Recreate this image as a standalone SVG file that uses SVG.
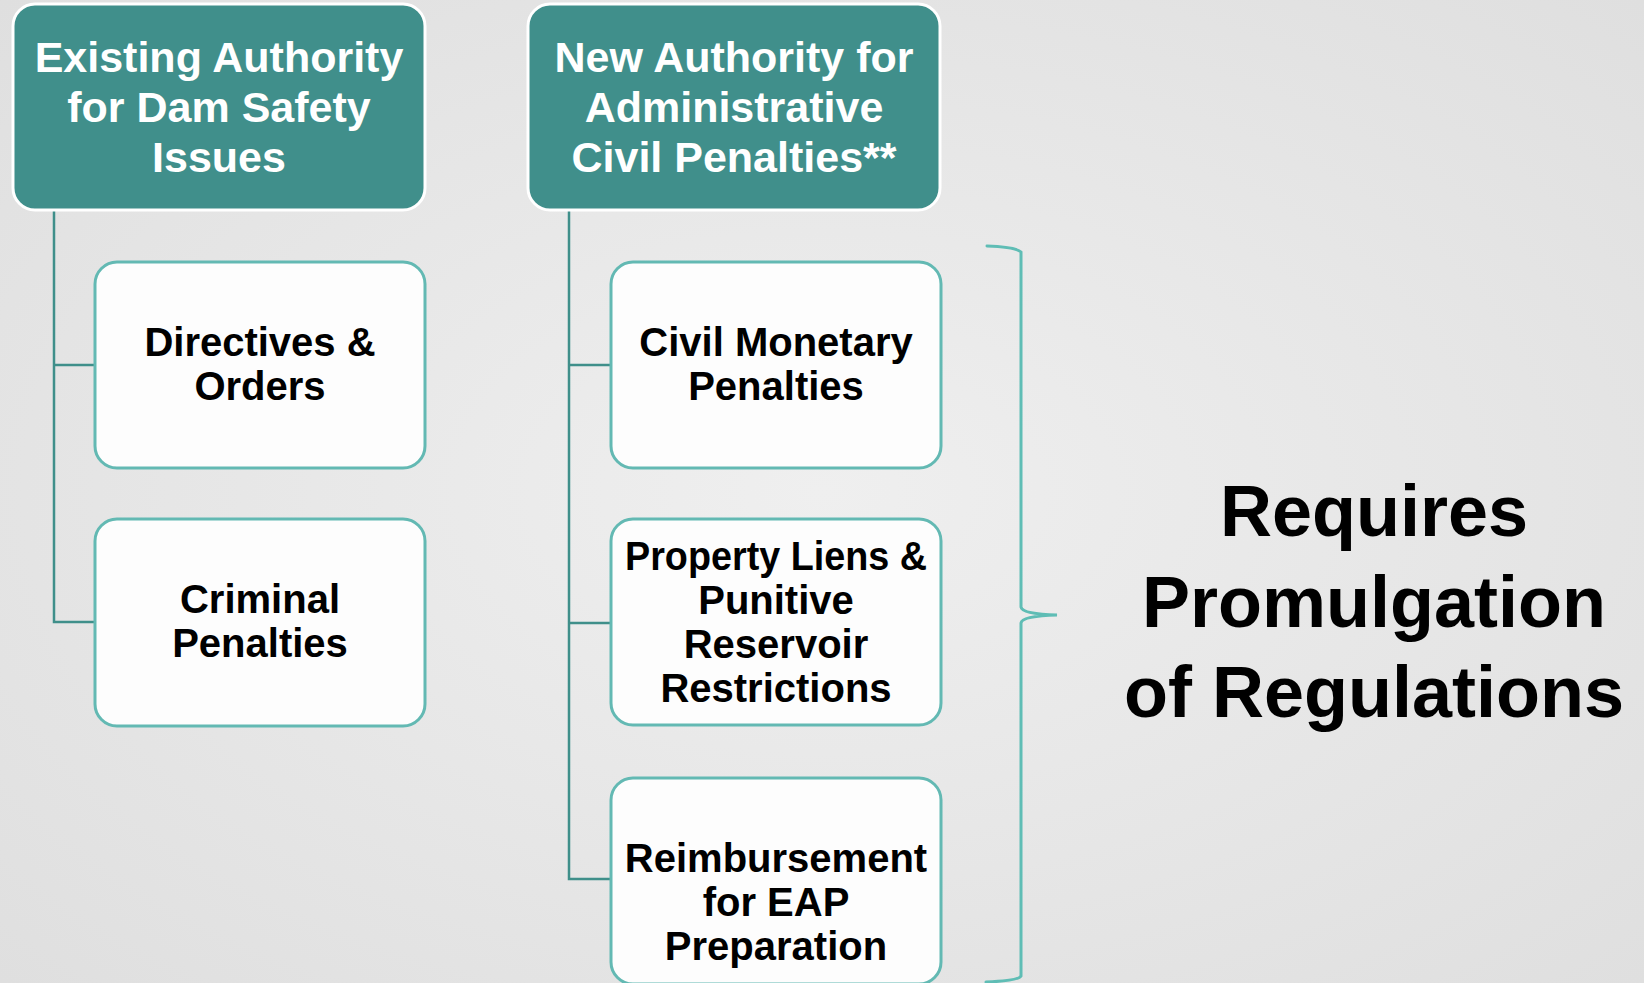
<svg xmlns="http://www.w3.org/2000/svg" width="1644" height="983" viewBox="0 0 1644 983">
<defs>
<radialGradient id="bg" cx="0.5" cy="0.5" r="0.75">
<stop offset="0" stop-color="#efefef"/>
<stop offset="1" stop-color="#dedede"/>
</radialGradient>
</defs>
<style>
.hdr{fill:#408f8b;stroke:#ffffff;stroke-width:3}
.box{fill:#fdfdfd;stroke:#63b9b3;stroke-width:3}
.ht{font-family:"Liberation Sans",Arial,sans-serif;font-weight:bold;font-size:43px;fill:#ffffff;text-anchor:middle}
.bt{font-family:"Liberation Sans",Arial,sans-serif;font-weight:bold;font-size:40px;fill:#000000;text-anchor:middle}
.big{font-family:"Liberation Sans",Arial,sans-serif;font-weight:bold;font-size:72px;fill:#000000;text-anchor:middle}
.con{fill:none;stroke:#3f8f8a;stroke-width:2.5}
.brk{fill:none;stroke:#5fbdb5;stroke-width:3;stroke-linecap:round}
</style>
<rect width="1644" height="983" fill="url(#bg)"/>
<g id="connectors">
<path class="con" d="M54 210 V622 H95 M54 365 H95"/>
<path class="con" d="M569 210 V879 H611 M569 365 H611 M569 623 H611"/>
</g>
<g id="hdr1">
<rect class="hdr" x="13" y="4" width="412" height="206" rx="22"/>
<text class="ht" x="219" y="72">Existing Authority</text>
<text class="ht" x="219" y="122">for Dam Safety</text>
<text class="ht" x="219" y="172">Issues</text>
</g>
<g id="hdr2">
<rect class="hdr" x="528" y="4" width="412" height="206" rx="22"/>
<text class="ht" x="734" y="72">New Authority for</text>
<text class="ht" x="734" y="122">Administrative</text>
<text class="ht" x="734" y="172">Civil Penalties**</text>
</g>
<g id="directives">
<rect class="box" x="95" y="262" width="330" height="206" rx="22"/>
<text class="bt" x="260" y="356">Directives &amp;</text>
<text class="bt" x="260" y="400">Orders</text>
</g>
<g id="criminal">
<rect class="box" x="95" y="519" width="330" height="207" rx="22"/>
<text class="bt" x="260" y="613">Criminal</text>
<text class="bt" x="260" y="657">Penalties</text>
</g>
<g id="civil">
<rect class="box" x="611" y="262" width="330" height="206" rx="22"/>
<text class="bt" x="776" y="356">Civil Monetary</text>
<text class="bt" x="776" y="400">Penalties</text>
</g>
<g id="property">
<rect class="box" x="611" y="519" width="330" height="206" rx="22"/>
<text class="bt" x="776" y="570" textLength="302" lengthAdjust="spacingAndGlyphs">Property Liens &amp;</text>
<text class="bt" x="776" y="614">Punitive</text>
<text class="bt" x="776" y="658">Reservoir</text>
<text class="bt" x="776" y="702">Restrictions</text>
</g>
<g id="reimbursement">
<rect class="box" x="611" y="778" width="330" height="206" rx="22"/>
<text class="bt" x="776" y="872">Reimbursement</text>
<text class="bt" x="776" y="916">for EAP</text>
<text class="bt" x="776" y="960">Preparation</text>
</g>
<g id="bracket">
<path class="brk" d="M987 246 Q1016 247 1021 252 L1021 607 Q1022 614 1057 615 Q1022 616 1021 623 L1021 976 Q1018 981 986 982"/>
</g>
<g id="requires">
<text class="big" x="1374" y="536">Requires</text>
<text class="big" x="1374" y="627">Promulgation</text>
<text class="big" x="1374" y="717">of Regulations</text>
</g>
</svg>
